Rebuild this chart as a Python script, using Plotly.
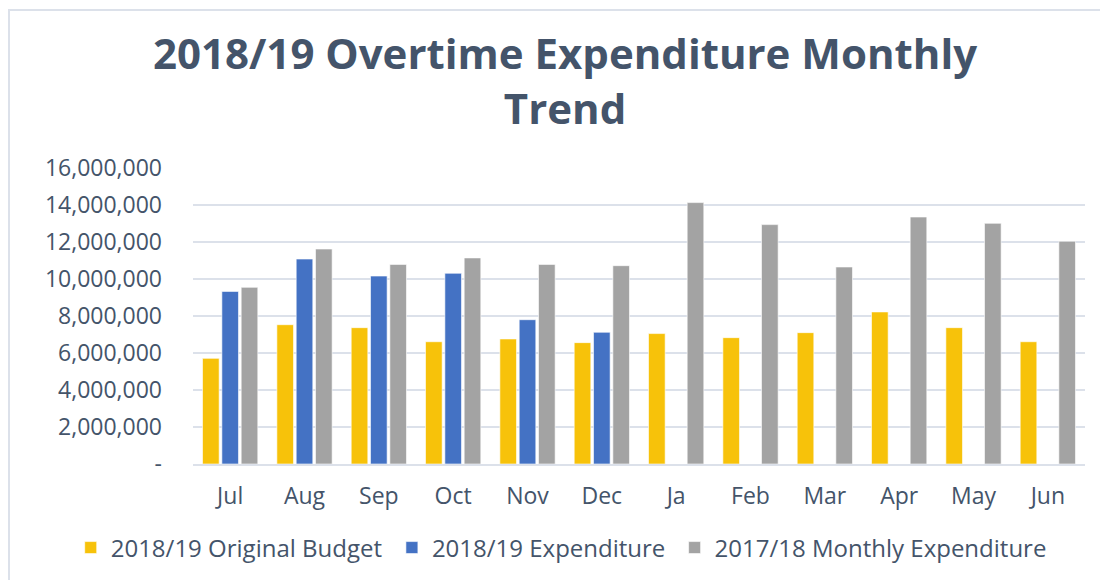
import plotly.graph_objects as go

months = ["Jul", "Aug", "Sep", "Oct", "Nov", "Dec", "Ja", "Feb", "Mar", "Apr", "May", "Jun"]
budget_1819 = [5710000, 7530000, 7370000, 6610000, 6760000, 6560000,
               7050000, 6830000, 7100000, 8220000, 7370000, 6610000]
expenditure_1819 = [9330000, 11080000, 10160000, 10310000, 7800000, 7120000,
                    None, None, None, None, None, None]
monthly_1718 = [9550000, 11620000, 10790000, 11140000, 10790000, 10720000,
                14130000, 12940000, 10650000, 13350000, 13010000, 12040000]

y_tickvals = [0, 2000000, 4000000, 6000000, 8000000, 10000000, 12000000, 14000000, 16000000]
y_ticktext = ["-", "2,000,000", "4,000,000", "6,000,000", "8,000,000",
              "10,000,000", "12,000,000", "14,000,000", "16,000,000"]

series_names = ["2018/19 Original Budget", "2018/19 Expenditure", "2017/18 Monthly Expenditure"]
series_colors = ["#F7C20A", "#4472C4", "#A3A3A3"]
legend_ids = ["legend", "legend2", "legend3"]
legend_x = [0.057, 0.349, 0.606]

TEXT = "#44546A"
FONT = "Open Sans"

fig = go.Figure()
for name, vals, col, lg in zip(series_names, [budget_1819, expenditure_1819, monthly_1718],
                               series_colors, legend_ids):
    fig.add_trace(go.Bar(
        x=months, y=vals, name=name, legend=lg,
        marker=dict(color=col, line=dict(color="rgba(255,255,255,0.6)", width=1)),
    ))

legend_style = dict(
    orientation="h", xref="container", yref="container",
    xanchor="left", y=0.056, yanchor="middle",
    font=dict(family=FONT, size=24, color=TEXT),
    itemwidth=30, bgcolor="rgba(0,0,0,0)",
)

# page body has an 8px default margin, so the figure is 8px smaller than the window
fig.update_layout(
    width=1100, height=572,
    paper_bgcolor="white", plot_bgcolor="white",
    barmode="group", bargap=0.22, bargroupgap=0.14,
    margin=dict(l=185, r=23, t=160, b=116, autoexpand=False),
    font=dict(family=FONT, color=TEXT),
    title=dict(
        text="<b>2018/19 Overtime Expenditure Monthly<br>Trend</b>",
        x=0.5064, xanchor="center", xref="container",
        y=0.893, yanchor="top", yref="container",
        font=dict(family=FONT, size=42, color=TEXT),
    ),
    legend=dict(legend_style, x=legend_x[0]),
    legend2=dict(legend_style, x=legend_x[1]),
    legend3=dict(legend_style, x=legend_x[2]),
    showlegend=True,
)

fig.update_yaxes(
    range=[0, 16000000], tickvals=y_tickvals, ticktext=y_ticktext,
    showgrid=True, gridcolor="#DCE1EA", gridwidth=1.5,
    zeroline=False, showline=False, ticks="", automargin=False,
    ticklabelstandoff=30,
    tickfont=dict(family=FONT, size=23, color=TEXT),
)
fig.update_xaxes(
    showgrid=False, zeroline=False, automargin=False,
    showline=True, linecolor="#DCE1EA", linewidth=1.5,
    ticks="", ticklabelstandoff=11,
    tickfont=dict(family=FONT, size=23, color=TEXT),
)

# outer frame lines (top and left) like the reference
fig.add_shape(type="line", xref="paper", yref="paper",
              x0=-0.2074, x1=1.05, y0=1.534, y1=1.534,
              line=dict(color="#DCE1EA", width=2))
fig.add_shape(type="line", xref="paper", yref="paper",
              x0=-0.2063, x1=-0.2063, y0=1.534, y1=-0.45,
              line=dict(color="#DCE1EA", width=2))

fig.write_html("out.html")
